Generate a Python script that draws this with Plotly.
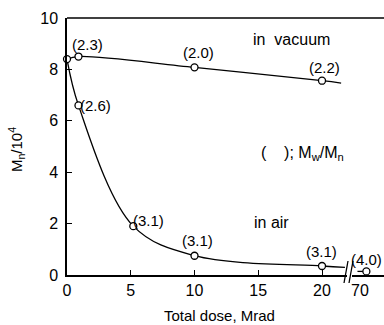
import plotly.graph_objects as go

# ---- data ----
vac_dose = [0, 0.9, 10, 20]
vac_mn = [8.4, 8.5, 8.08, 7.56]
vac_ratio = ["", "(2.3)", "(2.0)", "(2.2)"]
vac_line_dose = [0, 0.9, 10, 20, 21.5]
vac_line_mn = [8.4, 8.5, 8.08, 7.56, 7.47]

air_dose = [0.9, 5.2, 10, 20]
air_mn = [6.6, 1.9, 0.75, 0.35]
air_ratio = ["(2.6)", "(3.1)", "(3.1)", "(3.1)"]
air_line_dose = [0, 0.9, 5.2, 10, 20, 21.8]
air_line_mn = [8.4, 6.6, 1.9, 0.75, 0.35, 0.3]

far_dose = [70.5]
far_mn = [0.14]
far_ratio = ["(4.0)"]
far_line_dose = [69.8, 70.5]
far_line_mn = [0.14, 0.14]

y_ticks = [0, 2, 4, 6, 8, 10]
x_ticks = [0, 5, 10, 15, 20]
x2_ticks = [70]

# ---- layout geometry ----
W, H = 384, 325
L, R, T, B = 67, 0, 18, 50
PW = W - L - R
PH = H - T - B
FONT = "Liberation Sans"

def px(xp):
    return (xp - L) / PW

def py(yp):
    return (H - B - yp) / PH

fig = go.Figure()
mk = dict(symbol="circle", size=7, color="white", line=dict(width=1.3, color="black"))
ln = dict(color="black", width=1.3)

fig.add_trace(go.Scatter(x=vac_line_dose, y=vac_line_mn, mode="lines", line=dict(shape="spline", **ln),
                         cliponaxis=False, hoverinfo="skip"))
fig.add_trace(go.Scatter(x=air_line_dose, y=air_line_mn, mode="lines", line=dict(shape="spline", smoothing=1.0, **ln),
                         cliponaxis=False, hoverinfo="skip"))
fig.add_trace(go.Scatter(x=far_line_dose, y=far_line_mn, mode="lines", line=ln, xaxis="x2",
                         cliponaxis=False, hoverinfo="skip"))
fig.add_trace(go.Scatter(x=vac_dose, y=vac_mn, mode="markers", marker=mk, cliponaxis=False))
fig.add_trace(go.Scatter(x=air_dose, y=air_mn, mode="markers", marker=mk, cliponaxis=False))
fig.add_trace(go.Scatter(x=far_dose, y=far_mn, mode="markers", marker=mk, xaxis="x2", cliponaxis=False))

ann = []
lab_font = dict(family=FONT, size=15, color="black")
vac_off = [(0, 0), (9, 12), (4, 15), (2, 13)]
air_off = [(17, 0), (15, 6), (3, 15), (-1, 15)]
far_off = [(0, 12)]
for xs, ys, ts, offs, xr in [(vac_dose, vac_mn, vac_ratio, vac_off, "x"),
                             (air_dose, air_mn, air_ratio, air_off, "x"),
                             (far_dose, far_mn, far_ratio, far_off, "x2")]:
    for xv, yv, t, (dx, dy) in zip(xs, ys, ts, offs):
        if not t:
            continue
        ann.append(dict(x=xv, y=yv, xref=xr, yref="y", text=t, showarrow=False,
                        xanchor="center", yanchor="middle",
                        xshift=dx, yshift=dy, font=lab_font))

big = dict(family=FONT, size=16, color="black")
def txt(x, y, t, font, **kw):
    d = dict(x=px(x), y=py(y), xref="paper", yref="paper", text=t, showarrow=False,
             xanchor="center", yanchor="middle", font=font)
    d.update(kw)
    ann.append(d)

txt(291, 39, "in  vacuum", big)
txt(302, 153, "(    ); M<sub>w</sub>/M<sub>n</sub>", big)
txt(271, 222, "in air", big)
txt(219, 315, "Total dose, Mrad", dict(family=FONT, size=15, color="black"))
txt(16, 150, "M<sub>n</sub>/10<sup>4</sup>", dict(family=FONT, size=15, color="black"), textangle=-90)

shapes = [
    dict(type="line", xref="paper", yref="paper", x0=0, x1=1, y0=1, y1=1,
         line=dict(color="black", width=1.5)),
    dict(type="line", xref="paper", yref="paper", x0=px(344), x1=px(348), y0=py(283), y1=py(261),
         line=dict(color="black", width=1.3)),
    dict(type="line", xref="paper", yref="paper", x0=px(349), x1=px(353), y0=py(283), y1=py(261),
         line=dict(color="black", width=1.3)),
]

sc = 12.75  # px per Mrad
main_end = 347
x2_start = 352
axis_common = dict(showline=True, linecolor="black", linewidth=1.5, ticklen=5,
                   tickwidth=1.2, tickcolor="black", showgrid=False, zeroline=False,
                   tickfont=dict(family=FONT, size=16, color="black"))

fig.update_layout(
    width=W, height=H, margin=dict(l=L, r=R, t=T, b=B),
    plot_bgcolor="white", paper_bgcolor="white", showlegend=False,
    xaxis=dict(domain=[0, px(main_end)], range=[0, (main_end - L) / sc], ticks="inside",
               tickvals=x_ticks, ticktext=[str(v) for v in x_ticks], **axis_common),
    xaxis2=dict(domain=[px(x2_start), 1], anchor="y", ticks="",
                range=[70 - (360 - x2_start) / sc, 70 + (W - 360) / sc],
                tickvals=x2_ticks, ticktext=[str(v) for v in x2_ticks], **axis_common),
    yaxis=dict(range=[0, 10], ticks="inside", ticklabelstandoff=4,
               tickvals=y_ticks, ticktext=[str(v) for v in y_ticks], **axis_common),
    annotations=ann, shapes=shapes,
)

fig.write_html("out.html")
